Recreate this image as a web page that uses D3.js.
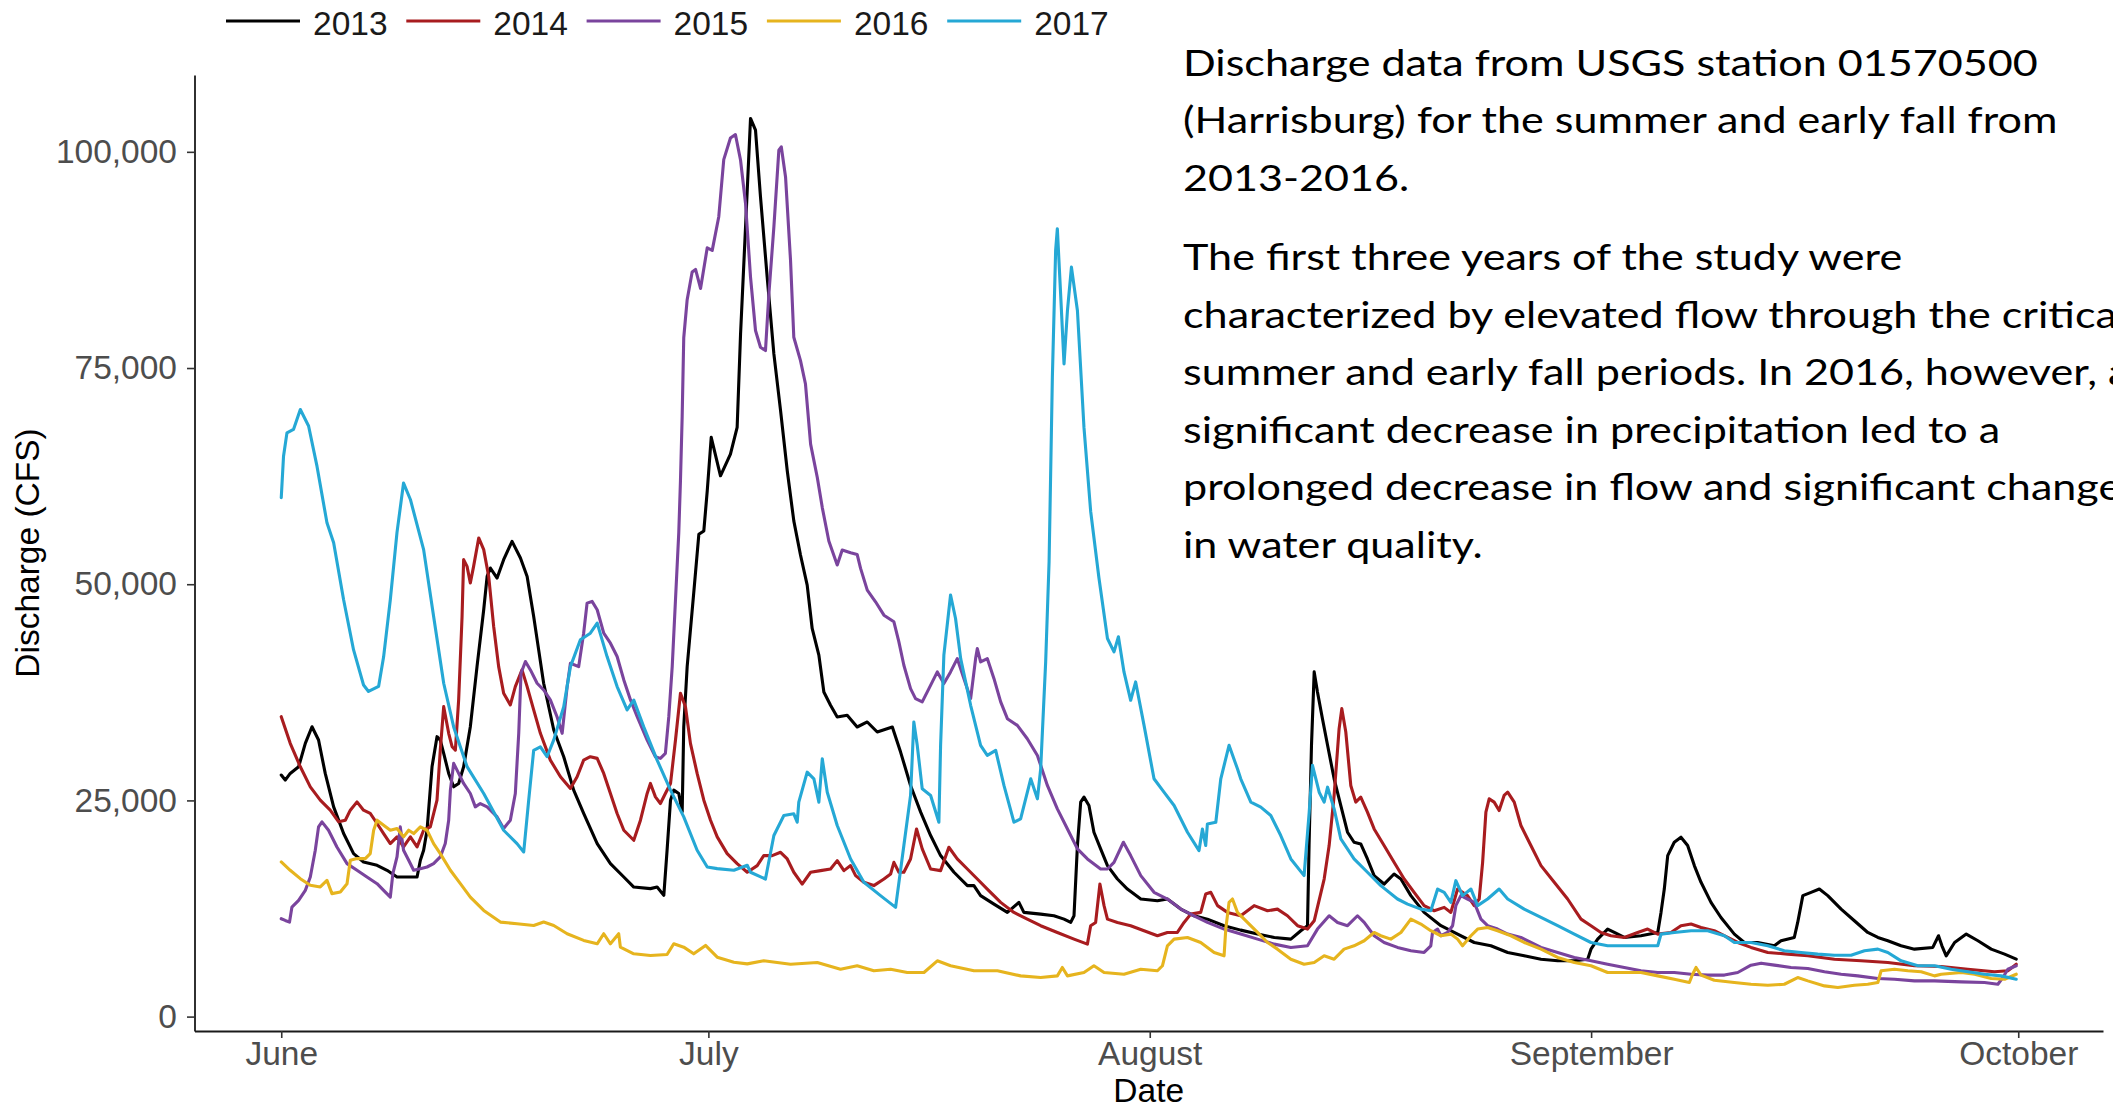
<!DOCTYPE html>
<html>
<head>
<meta charset="utf-8">
<script src="https://cdnjs.cloudflare.com/ajax/libs/d3/7.8.5/d3.min.js"></script>
<style>
  html, body { margin: 0; padding: 0; background: #ffffff; overflow: hidden; }
  svg { display: block; }
</style>
</head>
<body>
<svg id="chart" width="2113" height="1109"></svg>
<script>
// Susquehanna River discharge at Harrisburg (USGS 01570500), June 1 – October 1.
// Each point: [days since June 1, discharge in cubic feet per second]
const years = ["2013", "2014", "2015", "2016", "2017"];

const q2013 = [[0,27930],[0.28,27350],[0.63,28120],[1.22,28890],[1.69,31600],[2.16,33520],[2.62,31980],[3.09,28120],[3.68,24250],[4.38,21170],[5.08,18850],[5.78,17880],[6.73,17500],[7.43,16920],[8.13,16140],[9.54,16140],[9.77,18080],[10.0,19240],[10.24,21550],[10.59,28890],[10.94,32370],[11.17,31980],[11.41,30440],[11.76,28120],[12.11,26570],[12.46,26960],[12.81,28890],[13.28,33520],[13.75,40470],[14.22,47050],[14.46,50900],[14.69,51870],[15.16,50710],[15.62,52840],[16.21,54960],[16.8,53030],[17.27,50900],[17.73,46270],[18.08,42410],[18.43,38550],[19.14,33140],[19.84,30050],[20.54,26190],[21.24,23490],[22.19,20010],[23.12,17690],[24.06,16140],[24.76,14980],[25.93,14800],[26.4,14980],[26.87,14020],[27.1,19240],[27.34,25030],[27.57,26190],[27.92,25800],[28.16,23680],[28.27,33520],[28.51,40470],[28.97,48980],[29.33,55770],[29.68,56160],[29.92,60800],[30.2,66980],[30.85,62540],[31.55,65040],[32.02,68130],[32.26,78950],[32.61,91310],[32.96,103860],[33.31,102510],[33.66,94790],[34.13,85520],[34.6,76630],[35.07,70070],[35.54,63120],[36.0,57320],[36.47,53380],[36.94,49900],[37.29,44880],[37.76,41800],[38.11,37540],[38.58,36000],[39.05,34650],[39.75,34840],[40.45,33490],[41.16,34070],[41.86,32910],[42.92,33490],[43.5,30590],[44.2,26730],[44.91,23640],[45.61,20940],[46.31,18620],[47.25,16690],[48.19,15150],[48.65,15150],[49.12,13990],[50.06,13010],[51.0,12050],[51.81,13210],[52.16,12050],[53.34,11850],[54.27,11660],[54.98,11270],[55.45,10890],[55.68,11660],[55.92,19780],[56.15,24800],[56.38,25380],[56.73,24410],[57.08,21320],[57.55,19390],[58.03,17460],[58.73,15910],[59.43,14750],[60.37,13590],[61.54,13400],[62.24,13590],[63.18,12430],[64.11,11660],[65.05,11270],[66.22,10510],[67.39,10000],[68.57,9540],[69.75,9150],[70.91,8960],[71.61,9930],[72.08,10510],[72.19,19780],[72.36,31370],[72.55,39860],[72.78,37540],[73.13,34450],[73.49,31370],[73.95,27500],[74.42,24410],[74.89,21320],[75.35,20160],[75.82,19970],[76.29,18230],[76.76,16300],[77.46,15330],[78.16,16490],[78.64,15910],[79.34,13990],[80.27,12050],[81.45,10510],[82.38,9730],[83.79,8570],[84.96,8190],[86.14,7420],[87.3,7030],[88.48,6640],[89.65,6450],[90.82,6450],[91.76,6640],[91.99,7800],[92.46,8960],[93.16,10120],[93.63,9730],[94.33,9150],[95.5,9350],[96.68,9730],[96.91,12050],[97.14,14750],[97.38,18620],[97.84,20160],[98.31,20740],[98.78,19780],[99.25,17460],[99.72,15530],[100.42,13210],[101.12,11460],[102.06,9540],[102.76,8570],[103.7,8570],[104.87,8190],[105.34,8770],[106.27,9150],[106.51,10890],[106.87,13990],[107.45,14370],[108.03,14750],[108.62,13990],[109.56,12430],[110.49,11080],[111.43,9730],[112.14,9150],[112.84,8770],[113.77,8190],[114.71,7800],[116.0,8000],[116.4,9350],[116.64,8190],[116.94,7030],[117.53,8570],[118.35,9540],[119.17,8770],[120.1,7800],[121.04,7220],[121.86,6640]];

const q2014 = [[0,34680],[0.63,31600],[1.34,28890],[2.04,26570],[2.74,25030],[3.44,23870],[4.03,22520],[4.5,22710],[4.85,23870],[5.32,24830],[5.78,23870],[6.25,23490],[6.73,22330],[7.19,21170],[7.66,20010],[8.13,20780],[8.59,19620],[9.07,20780],[9.54,19620],[10.0,21550],[10.47,21940],[10.94,25030],[11.17,30820],[11.41,35840],[11.76,32760],[12.0,31210],[12.23,30820],[12.46,36620],[12.7,46270],[12.81,52840],[13.05,52060],[13.28,50140],[13.51,52060],[13.87,55350],[14.22,54000],[14.57,50900],[14.92,45110],[15.27,40470],[15.62,37390],[16.09,36040],[16.44,38160],[16.91,40090],[17.27,38160],[17.73,35460],[18.2,32760],[18.9,29660],[19.61,27730],[20.31,26380],[20.78,27730],[21.24,29660],[21.71,30050],[22.19,29860],[22.65,28120],[23.12,25800],[23.59,23490],[24.06,21550],[24.76,20390],[25.23,22710],[25.7,25800],[25.93,26960],[26.28,25410],[26.63,24640],[26.98,25800],[27.34,26960],[27.69,31980],[28.04,37390],[28.39,35840],[28.74,31600],[29.21,28120],[29.68,25030],[30.15,22710],[30.62,20780],[31.32,18850],[32.02,17690],[32.73,16690],[33.43,17460],[33.89,18620],[34.48,18620],[35.07,19000],[35.54,18230],[36.0,16690],[36.59,15330],[37.18,16690],[37.88,16880],[38.58,17070],[39.05,18040],[39.52,16880],[39.99,17460],[40.34,16300],[40.92,15530],[41.62,15150],[42.33,15910],[42.8,16490],[43.03,17840],[43.38,16690],[43.73,16690],[44.2,18230],[44.62,21700],[45.02,19390],[45.61,17070],[46.31,16880],[46.89,19580],[47.48,18230],[48.19,17070],[48.89,15910],[49.59,14750],[50.53,13210],[51.46,12050],[52.4,11270],[53.34,10510],[54.51,9730],[55.68,8960],[56.62,8380],[56.85,10510],[57.2,10890],[57.5,15330],[57.79,12830],[58.03,11270],[58.73,10890],[59.66,10510],[60.6,9930],[61.54,9350],[62.24,9730],[62.94,9730],[63.41,10890],[63.88,11850],[64.58,12050],[64.93,14170],[65.29,14370],[65.76,12830],[66.46,12050],[67.39,11660],[68.33,12830],[69.27,12240],[69.97,12430],[70.67,11660],[71.38,10510],[72.08,10120],[72.55,11080],[73.25,15910],[73.6,19780],[73.95,25570],[74.3,33290],[74.49,35610],[74.77,32910],[75.12,26730],[75.47,24800],[75.82,25380],[76.29,23640],[76.76,21700],[77.46,19780],[78.16,17840],[78.87,15910],[79.57,14370],[80.27,12830],[80.98,12240],[81.68,12630],[82.15,12050],[82.62,14750],[83.32,13990],[83.79,12830],[84.14,13600],[84.38,17840],[84.61,23640],[84.84,25180],[85.19,24800],[85.54,23830],[85.89,25570],[86.14,25950],[86.6,24800],[87.07,22100],[87.77,19780],[88.48,17460],[89.41,15530],[90.35,13600],[91.29,11270],[91.99,10510],[92.69,9730],[93.39,9350],[94.33,9150],[95.27,9730],[95.97,10120],[96.68,9540],[97.61,9730],[98.31,10510],[99.02,10700],[99.72,10310],[100.65,9930],[101.59,9150],[102.3,8570],[103.23,8000],[104.41,7420],[105.82,7220],[107.22,7030],[109.09,6640],[110.96,6450],[112.84,6260],[114.71,5880],[116.59,5790],[118.46,5480],[120.33,5180],[121.27,5300],[121.86,6060]];

const q2015 = [[0,11320],[0.28,11120],[0.58,10930],[0.75,12670],[1.22,13440],[1.69,14600],[2.04,16140],[2.39,19240],[2.62,21940],[2.86,22520],[3.32,21550],[3.91,19620],[4.62,17690],[5.32,16920],[6.02,16140],[6.73,15370],[7.19,14600],[7.66,13820],[7.84,16530],[8.13,18460],[8.36,21940],[8.59,19240],[8.95,18080],[9.3,16920],[9.77,17110],[10.24,17300],[10.7,17690],[11.17,18460],[11.52,20010],[11.76,22710],[11.88,26190],[12.11,29280],[12.46,28120],[12.81,26960],[13.28,25800],[13.63,24250],[13.98,24640],[14.46,24250],[15.16,23090],[15.62,21750],[16.09,22710],[16.44,25800],[16.68,32760],[16.84,39710],[17.15,41060],[17.5,40090],[17.97,38550],[18.43,37770],[18.9,36620],[19.37,34680],[19.73,32760],[20.08,38160],[20.31,40860],[20.89,40470],[21.24,44340],[21.48,47810],[21.83,48010],[22.19,47050],[22.65,44340],[23.12,43180],[23.59,41640],[24.06,38930],[24.53,36620],[25.0,34680],[25.7,31980],[26.28,30050],[26.63,29860],[26.98,30440],[27.22,34680],[27.46,40470],[27.69,48200],[27.92,55930],[28.04,62000],[28.16,69440],[28.27,78500],[28.51,82900],[28.86,86100],[29.1,86400],[29.45,84200],[29.92,88900],[30.27,88600],[30.73,92500],[31.08,99100],[31.55,101600],[31.9,102000],[32.26,99030],[32.61,94010],[32.96,85520],[33.31,79340],[33.66,77410],[34.01,77020],[34.25,83580],[34.6,91310],[34.95,100190],[35.12,100580],[35.42,97100],[35.77,87450],[36.0,78560],[36.47,75860],[36.82,73150],[37.18,66200],[37.65,62340],[38.0,58860],[38.46,55000],[39.05,52220],[39.4,53960],[39.99,53650],[40.45,53450],[40.69,51830],[41.16,49320],[41.74,47970],[42.33,46420],[43.03,45650],[43.38,43340],[43.73,40630],[44.2,37930],[44.55,36770],[45.02,36390],[45.49,37930],[46.08,39860],[46.54,38510],[47.01,39860],[47.48,41400],[47.95,39080],[48.42,36770],[48.77,41400],[48.89,42560],[49.12,41020],[49.59,41400],[50.06,39080],[50.53,36390],[51.0,34450],[51.7,33680],[52.4,32130],[53.11,30200],[53.81,26730],[54.51,24020],[55.22,21700],[55.92,19390],[56.62,18230],[57.55,17070],[58.03,17070],[58.49,17840],[59.15,20160],[59.66,18620],[60.37,16300],[61.3,14370],[62.24,13590],[63.18,12430],[64.11,11660],[65.05,10890],[66.22,10120],[67.39,9540],[68.57,8960],[69.75,8380],[70.91,8000],[72.08,8190],[72.78,10120],[73.6,11660],[74.19,10890],[74.89,10510],[75.59,11660],[76.06,10890],[76.76,9350],[77.46,8570],[78.4,8000],[79.34,7610],[80.27,7420],[80.74,8190],[80.86,9730],[81.22,10120],[81.45,9350],[81.92,9730],[82.27,10510],[82.5,12830],[82.85,13990],[83.32,13600],[83.79,13210],[84.26,11270],[84.73,10510],[85.43,10120],[86.14,9540],[87.07,9150],[87.77,8570],[88.48,8000],[89.65,7420],[90.82,6840],[91.99,6450],[93.16,6060],[94.33,5680],[95.5,5300],[96.68,5100],[97.84,5100],[99.02,4900],[100.19,4800],[101.36,4800],[102.3,5100],[103.23,5950],[103.94,6180],[104.87,5950],[106.04,5680],[107.22,5560],[108.39,5180],[109.56,4900],[110.73,4710],[112.14,4400],[113.31,4320],[114.71,4130],[116.12,4130],[118.0,4020],[119.63,3940],[120.57,3740],[120.92,4520],[121.27,5480],[121.86,5880]];

const q2016 = [[0,17880],[0.63,16920],[1.34,15950],[2.04,15180],[2.74,14990],[3.21,15760],[3.56,14220],[4.15,14400],[4.62,15370],[4.85,18080],[5.32,18270],[5.9,18270],[6.25,18850],[6.49,21550],[6.73,22710],[7.19,22130],[7.66,21550],[8.13,21750],[8.59,20780],[8.95,21550],[9.3,21170],[9.77,21940],[10.24,21550],[10.7,20010],[11.17,18850],[11.88,16920],[12.58,15370],[13.28,13820],[14.22,12280],[15.39,10930],[16.56,10740],[17.73,10540],[18.43,10930],[19.14,10540],[20.08,9580],[21.24,8810],[22.19,8420],[22.65,9580],[23.12,8420],[23.7,9580],[23.82,8030],[24.76,7260],[25.93,7070],[27.1,7180],[27.57,8420],[28.27,8030],[28.97,7260],[29.8,8230],[30.62,6870],[31.79,6290],[32.73,6100],[33.89,6450],[35.77,6060],[37.65,6260],[39.28,5480],[40.45,5880],[41.62,5300],[42.8,5480],[43.97,5100],[45.14,5100],[46.08,6450],[47.01,5880],[48.65,5300],[50.3,5300],[51.93,4710],[53.34,4520],[54.51,4710],[54.86,5680],[55.22,4710],[56.38,5100],[57.08,5880],[57.79,5100],[59.19,4900],[60.37,5480],[61.54,5300],[61.89,5880],[62.24,8190],[62.71,8960],[63.65,9150],[64.58,8570],[65.52,7420],[66.22,7030],[66.34,10120],[66.57,13210],[66.81,13600],[67.16,12050],[67.86,10890],[68.57,9730],[69.27,8570],[69.97,7800],[70.91,6640],[71.84,6060],[72.55,6260],[73.25,7030],[73.95,6640],[74.65,7800],[75.35,8190],[76.06,8770],[76.76,9730],[77.23,9350],[77.93,8960],[78.64,9730],[79.34,11270],[80.04,10700],[80.74,9930],[81.45,9350],[82.15,9540],[82.62,8960],[82.97,8190],[83.56,9350],[84.03,10120],[84.73,10310],[85.43,9930],[86.37,9350],[87.3,8570],[88.48,7800],[89.65,6840],[90.82,6260],[91.99,5880],[93.16,5100],[95.5,5100],[96.68,4710],[97.84,4320],[98.9,3940],[99.13,4900],[99.37,5680],[99.72,4800],[100.65,4200],[102.06,3940],[103.23,3740],[104.41,3630],[105.57,3740],[106.51,4520],[107.22,4130],[108.39,3550],[109.33,3360],[110.49,3630],[111.43,3740],[112.14,3940],[112.37,5300],[113.31,5480],[114.25,5300],[115.18,5180],[116.12,4710],[116.59,4900],[118.0,5100],[118.94,4900],[120.1,4400],[121.04,4320],[121.86,4900]];

const q2017 = [[0,60000],[0.16,64800],[0.4,67500],[0.86,67900],[1.34,70200],[1.92,68300],[2.51,63650],[3.21,57100],[3.68,54800],[4.38,48200],[5.08,42400],[5.78,38350],[6.13,37600],[6.84,38200],[7.19,41600],[7.66,48200],[8.13,56000],[8.59,61700],[9.07,59800],[10.0,54000],[10.7,46300],[11.41,38550],[12.11,33500],[13.05,28900],[14.22,25800],[15.62,21550],[16.56,20000],[17.03,19040],[17.38,25030],[17.73,30800],[18.2,31200],[18.67,30050],[19.14,32000],[19.84,35840],[20.31,40470],[21.01,43570],[21.71,44340],[22.19,45500],[22.89,41600],[23.59,38160],[24.29,35460],[24.76,36600],[25.46,33500],[26.4,29660],[27.34,26190],[28.27,23090],[29.21,19240],[29.92,17300],[30.62,17110],[31.79,16920],[32.73,17500],[32.96,16690],[34.01,15910],[34.6,20940],[35.3,23260],[36.0,23450],[36.24,22480],[36.35,24800],[36.94,28270],[37.41,27500],[37.76,24800],[38.0,29810],[38.35,25950],[39.05,22100],[39.99,18230],[40.92,15530],[42.09,13990],[43.15,12630],[43.73,19780],[44.2,25570],[44.43,34070],[44.67,31370],[45.02,26340],[45.61,25570],[46.19,22480],[46.31,31370],[46.54,41800],[47.01,48750],[47.36,46040],[47.72,41400],[48.42,36000],[49.12,31370],[49.59,30200],[50.18,30790],[50.76,26730],[51.46,22480],[51.93,22860],[52.64,27500],[53.11,25180],[53.34,28650],[53.69,41020],[53.93,52600],[54.16,73930],[54.39,88600],[54.51,91110],[54.74,83580],[54.98,75470],[55.22,81650],[55.5,86670],[55.92,81650],[56.38,68130],[56.85,58440],[57.43,50750],[58.03,43720],[58.49,42180],[58.8,43920],[59.19,39860],[59.66,36580],[60.01,38700],[60.6,33680],[61.3,27500],[62.0,25950],[62.71,24410],[63.65,21320],[64.46,19200],[64.7,21700],[64.93,19780],[65.05,22280],[65.64,22480],[65.99,27500],[66.57,31370],[67.16,28650],[67.39,27500],[68.1,24800],[68.8,24220],[69.5,23260],[70.2,20940],[70.91,18230],[71.84,16300],[72.2,23640],[72.43,29050],[72.9,25950],[73.25,24800],[73.49,26530],[73.95,24020],[74.42,20550],[75.35,18230],[76.29,16690],[77.23,15150],[78.4,13600],[79.11,13010],[80.04,12430],[80.74,12240],[81.22,14750],[81.68,14370],[82.15,13210],[82.5,15720],[82.97,13990],[83.56,14750],[84.03,12830],[84.73,13600],[85.54,14750],[86.14,13600],[87.3,12430],[88.48,11470],[89.65,10510],[90.82,9540],[91.99,8570],[93.16,8190],[95.5,8190],[96.68,8190],[96.91,9540],[97.84,9730],[99.02,9930],[100.19,9930],[101.36,9350],[102.06,8570],[103.23,8570],[104.41,8190],[105.57,7610],[106.75,7420],[107.92,7220],[109.09,7100],[110.26,7100],[111.2,7610],[112.14,7800],[112.84,7420],[113.77,6450],[114.95,5880],[116.12,5880],[117.29,5480],[118.46,5180],[119.63,4900],[120.8,4710],[121.86,4320]];

const seriesValues = [q2013, q2014, q2015, q2016, q2017];
const seriesColors = ["#000000", "#A81C1F", "#7A449D", "#E6B41E", "#25A8D5"];

const yTicks = [0, 25000, 50000, 75000, 100000];
const monthTicks = [5, 6, 7, 8, 9];            // June .. October (0-based month)
const xTitle = "Date";
const yTitle = "Discharge (CFS)";

const noteParagraphs = [
  ["Discharge data from USGS station 01570500",
   "(Harrisburg) for the summer and early fall from",
   "2013-2016."],
  ["The first three years of the study were",
   "characterized by elevated flow through the critical",
   "summer and early fall periods. In 2016, however, a",
   "significant decrease in precipitation led to a",
   "prolonged decrease in flow and significant changes",
   "in water quality."]
];

// ---- layout ----
const panel = { left: 194.5, right: 2103, top: 75, bottom: 1031 };
const axisFont = "'Liberation Sans', Arial, Helvetica, sans-serif";
const axisSize = 33.5;

const svg = d3.select("#chart");

const seasonStart = Date.UTC(2017, 5, 1);
const toDate = d => new Date(seasonStart + d * 864e5);

const series = years.map((name, i) => ({ name, color: seriesColors[i], values: seriesValues[i] }));
const allPts = series.flatMap(s => s.values);
const [d0, d1] = d3.extent(allPts, p => p[0]);
const [v0, v1] = d3.extent(allPts, p => p[1]);
const padX = (d1 - d0) * 0.05, padY = (v1 - v0) * 0.05;

const x = d3.scaleUtc()
  .domain([toDate(d0 - padX), toDate(d1 + padX)])
  .range([panel.left, panel.right]);
const y = d3.scaleLinear()
  .domain([v0 - padY, v1 + padY])
  .range([panel.bottom, panel.top]);

// ---- series lines ----
const line = d3.line()
  .x(p => x(toDate(p[0])))
  .y(p => y(p[1]));

svg.append("g")
  .selectAll("path")
  .data(series)
  .join("path")
  .attr("d", s => line(s.values))
  .attr("fill", "none")
  .attr("stroke", s => s.color)
  .attr("stroke-width", 3.1)
  .attr("stroke-linejoin", "round")
  .attr("stroke-linecap", "round");

// ---- axes ----
const xAxis = d3.axisBottom(x)
  .tickValues(monthTicks.map(m => new Date(Date.UTC(2017, m, 1))))
  .tickFormat(d3.utcFormat("%B"))
  .tickSize(7).tickSizeOuter(0).tickPadding(3);

const gx = svg.append("g")
  .attr("transform", `translate(0,${panel.bottom})`)
  .call(xAxis);

const yAxis = d3.axisLeft(y)
  .tickValues(yTicks)
  .tickFormat(d3.format(","))
  .tickSize(7.5).tickSizeOuter(0).tickPadding(10);

const gy = svg.append("g")
  .attr("transform", `translate(${panel.left},0)`)
  .call(yAxis);

[gx, gy].forEach(g => {
  g.select(".domain").attr("stroke", "#1a1a1a").attr("stroke-width", 1.8);
  g.selectAll(".tick line").attr("stroke", "#333333").attr("stroke-width", 1.6);
  g.selectAll(".tick text")
    .attr("fill", "#4D4D4D")
    .style("font-family", axisFont)
    .style("font-size", axisSize + "px");
});

// axis titles
svg.append("text")
  .attr("x", (panel.left + panel.right) / 2)
  .attr("y", 1101.8)
  .attr("text-anchor", "middle")
  .style("font-family", axisFont)
  .style("font-size", axisSize + "px")
  .attr("fill", "#000")
  .text(xTitle);

svg.append("text")
  .attr("transform", `translate(39,${(panel.top + panel.bottom) / 2}) rotate(-90)`)
  .attr("text-anchor", "middle")
  .style("font-family", axisFont)
  .style("font-size", axisSize + "px")
  .attr("fill", "#000")
  .text(yTitle);

// ---- legend ----
const legend = svg.append("g")
  .selectAll("g")
  .data(series)
  .join("g")
  .attr("transform", (d, i) => `translate(${226 + i * 180.3},0)`);

legend.append("line")
  .attr("x1", 0).attr("x2", 74)
  .attr("y1", 21).attr("y2", 21)
  .attr("stroke", d => d.color)
  .attr("stroke-width", 3.1);

legend.append("text")
  .attr("x", 87).attr("y", 35)
  .style("font-family", axisFont)
  .style("font-size", axisSize + "px")
  .attr("fill", "#1a1a1a")
  .text(d => d.name);

// ---- explanatory note (runs off the right edge of the slide) ----
const noteLines = [];
let baseline = 76;
noteParagraphs.forEach((para, pi) => {
  if (pi > 0) baseline += 22;
  para.forEach(t => { noteLines.push({ t, y: baseline }); baseline += 57.5; });
});

const note = svg.append("g");
const noteText = note.selectAll("text")
  .data(noteLines)
  .join("text")
  .attr("x", 0)
  .attr("y", d => d.y)
  .style("font-family", "Lato, 'Open Sans', 'Noto Sans', sans-serif")
  .style("font-size", "37.3px")
  .attr("fill", "#000")
  .text(d => d.t);

// condense the note horizontally so its first line spans the slide text width
const firstWidth = noteText.node().getComputedTextLength();
const squeeze = firstWidth > 0 ? 855 / firstWidth : 1;
note.attr("transform", `translate(1183,0) scale(${squeeze},1)`);
</script>
</body>
</html>
